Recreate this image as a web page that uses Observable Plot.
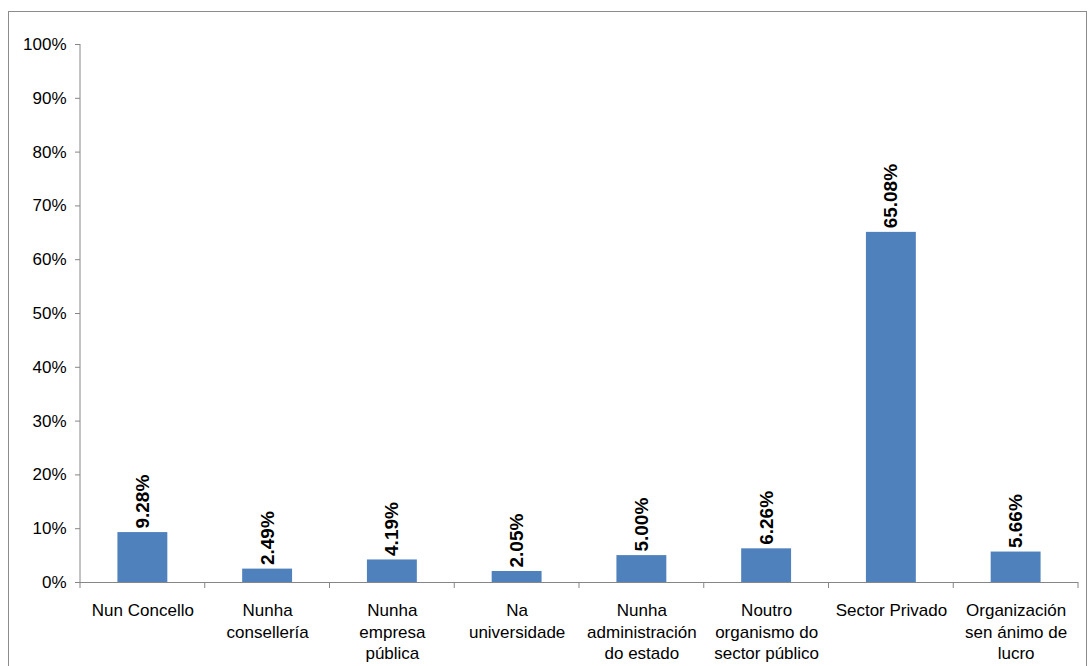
<!DOCTYPE html>
<html><head><meta charset="utf-8">
<script src="https://cdn.jsdelivr.net/npm/d3@7"></script>
<script src="https://cdn.jsdelivr.net/npm/@observablehq/plot@0.6"></script>
<style>
body{margin:0;background:#fff;}
#wrap{position:relative;width:1088px;height:666px;overflow:hidden;}
#frame{position:absolute;left:8px;top:11px;width:1079px;height:700px;border:1px solid #8c8c8c;box-sizing:border-box;pointer-events:none;}
#chart{position:absolute;left:0;top:0;}
</style></head><body>
<div id="wrap"><div id="chart"></div><div id="frame"></div></div>
<script>
const categories = ["Nun Concello","Nunha\nconsellería","Nunha\nempresa\npública","Na\nuniversidade","Nunha\nadministración\ndo estado","Noutro\norganismo do\nsector público","Sector Privado","Organización\nsen ánimo de\nlucro"];
const values = [9.28, 2.49, 4.19, 2.05, 5.00, 6.26, 65.08, 5.66];
const yTicks = [0, 10, 20, 30, 40, 50, 60, 70, 80, 90, 100];

const data = categories.map((c, i) => ({cat: c, v: values[i]}));
const axisColor = "#868686";
const font = "'Liberation Sans', Arial, sans-serif";

const chart = Plot.plot({
  width: 1088,
  height: 666,
  marginLeft: 80,
  marginRight: 10,
  marginTop: 44,
  marginBottom: 84,
  style: {fontFamily: font, fontSize: "17px", color: "#000", background: "transparent", overflow: "visible"},
  x: {domain: categories, paddingInner: 0.6, paddingOuter: 0.3, round: false, axis: null, label: null},
  y: {domain: [0, 100], axis: null, label: null},
  marks: [
    Plot.axisY({ticks: yTicks, tickFormat: d => d + "%", tickSize: 5, tickPadding: 9, stroke: axisColor, fontSize: 17, label: null}),
    Plot.axisX({tickSize: 0, tickPadding: 19, lineHeight: 1.24, fontSize: 17, tickFormat: d => d, label: null}),
    Plot.barY(data, {x: "cat", y: "v", fill: "#4F81BD"}),
    Plot.ruleY([0], {stroke: axisColor, strokeWidth: 1}),
    Plot.text(data, {x: "cat", y: "v", text: d => d.v.toFixed(2) + "%", rotate: -90, textAnchor: "start", lineAnchor: "middle", dy: -4, fontWeight: "bold", fontSize: 19, fill: "#000"})
  ]
});
document.getElementById("chart").appendChild(chart);

// axis line on the left and category boundary ticks, derived from the scales
const xs = chart.scale("x");
const ys = chart.scale("y");
const svg = d3.select(chart);
const y0 = ys.apply(0), y1 = ys.apply(100);
const left = xs.apply(categories[0]) + xs.bandwidth / 2 - xs.step / 2;
svg.append("line").attr("x1", left).attr("x2", left).attr("y1", y0).attr("y2", y1)
  .attr("stroke", axisColor);
const bounds = categories.map(c => xs.apply(c) + xs.bandwidth / 2 - xs.step / 2);
bounds.push(bounds[bounds.length - 1] + xs.step);
svg.selectAll(".bt").data(bounds).join("line")
  .attr("x1", d => d).attr("x2", d => d).attr("y1", y0).attr("y2", y0 + 6)
  .attr("stroke", axisColor);
</script>
</body></html>
